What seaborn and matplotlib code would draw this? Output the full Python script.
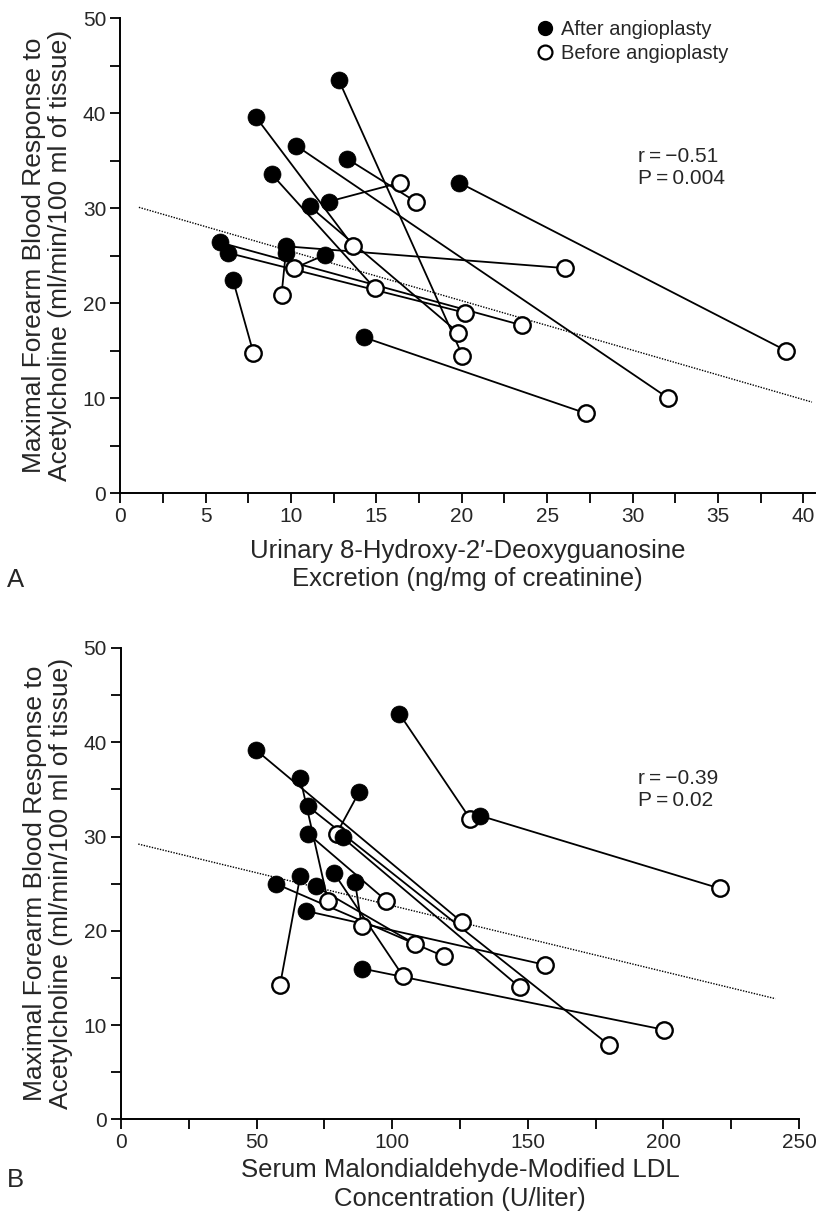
import pandas as pd
import seaborn as sns
import matplotlib.pyplot as plt
from matplotlib.lines import Line2D
from matplotlib.ticker import MultipleLocator

# Panel A: urinary 8-OHdG excretion (pairs listed in the same order)
a_after_x = [12.8, 7.95, 10.3, 13.3, 8.87, 19.85, 12.2, 11.1, 6.6, 14.3, 9.7, 5.85, 6.33, 9.7, 12.0]
a_after_y = [43.5, 39.6, 36.6, 35.2, 33.6, 32.7, 30.7, 30.2, 22.5, 16.4, 25.3, 26.4, 25.3, 26.0, 25.1]
a_before_x = [20.04, 13.65, 32.1, 17.3, 14.9, 39.0, 16.4, 19.8, 7.8, 27.3, 9.45, 23.5, 20.2, 26.06, 10.2]
a_before_y = [14.5, 26.0, 10.0, 30.7, 21.6, 15.0, 32.7, 16.9, 14.8, 8.4, 20.9, 17.7, 19.0, 23.7, 23.7]
a_fit_x = [1.1, 40.5]
a_fit_y = [30.1, 9.6]

# Panel B: serum MDA-modified LDL
b_after_x = [102.7, 132.5, 49.7, 66.1, 87.8, 69.0, 69.0, 81.7, 66.1, 78.6, 57.0, 71.8, 86.3, 68.4, 88.8]
b_after_y = [43.0, 32.2, 39.2, 36.2, 34.7, 33.2, 30.3, 29.9, 25.8, 26.1, 25.0, 24.7, 25.2, 22.1, 16.0]
b_before_x = [128.7, 220.7, 125.8, 76.3, 79.5, 179.9, 97.8, 147.1, 58.7, 104.0, 119.0, 108.4, 88.8, 156.2, 200.3]
b_before_y = [31.9, 24.5, 20.9, 23.2, 30.3, 7.9, 23.2, 14.0, 14.3, 15.2, 17.3, 18.6, 20.5, 16.4, 9.5]
b_fit_x = [6.4, 241.3]
b_fit_y = [29.2, 12.8]

ylabel = 'Maximal Forearm Blood Response to\nAcetylcholine (ml/min/100 ml of tissue)'
a_xlabel = 'Urinary 8-Hydroxy-2\u2032-Deoxyguanosine\nExcretion (ng/mg of creatinine)'
b_xlabel = 'Serum Malondialdehyde-Modified LDL\nConcentration (U/liter)'

sns.set_theme(style='ticks')
plt.rcParams['font.family'] = ['Liberation Sans', 'DejaVu Sans']
narrow = ['Liberation Sans Narrow', 'Liberation Sans', 'DejaVu Sans']


def pairs_frame(after_x, after_y, before_x, before_y):
    n = len(after_x)
    return pd.DataFrame({
        'pair': list(range(n)) * 2,
        'x': after_x + before_x,
        'y': after_y + before_y,
        'state': ['after'] * n + ['before'] * n,
    })


def draw_panel(ax, df, fit_x, fit_y, xmax, xmajor, xlabel, xpad, stats):
    sns.lineplot(data=df, x='x', y='y', units='pair', estimator=None, sort=False,
                 color='black', lw=1.3, ax=ax, legend=False, zorder=2)
    sns.lineplot(x=fit_x, y=fit_y, color='black', lw=1.0, ls=(0, (1, 1)),
                 ax=ax, legend=False, zorder=1)
    before = df[df['state'] == 'before']
    after = df[df['state'] == 'after']
    sns.scatterplot(data=before, x='x', y='y', s=140, color='white',
                    edgecolor='black', linewidth=1.7, ax=ax, zorder=3)
    sns.scatterplot(data=after, x='x', y='y', s=150, color='black',
                    edgecolor='black', linewidth=0.5, ax=ax, zorder=4)

    ax.set_xlim(0, xmax)
    ax.set_ylim(0, 50)
    ax.xaxis.set_major_locator(MultipleLocator(xmajor))
    ax.xaxis.set_minor_locator(MultipleLocator(xmajor / 2))
    ax.yaxis.set_major_locator(MultipleLocator(10))
    ax.yaxis.set_minor_locator(MultipleLocator(5))
    ax.tick_params(which='both', direction='out', length=7, width=1.3, color='black')
    ax.tick_params(which='major', labelsize=15, pad=3)
    for lab in ax.get_xticklabels() + ax.get_yticklabels():
        lab.set_family(narrow)
    for side in ['left', 'bottom']:
        ax.spines[side].set_linewidth(1.4)
        ax.spines[side].set_color('black')
    sns.despine(ax=ax)

    ax.set_xlabel(xlabel, fontsize=18.5, labelpad=xpad, linespacing=1.25)
    ax.set_ylabel(ylabel, fontsize=19, labelpad=8, linespacing=1.1)

    ax.text(stats[0], stats[1], stats[2], fontsize=15, family=narrow,
            va='top', ha='left', linespacing=1.2)


fig = plt.figure(figsize=(8.17, 12.18), dpi=100)
ax_a = fig.add_axes([0.147, 0.595, 0.851, 0.390])
ax_b = fig.add_axes([0.148, 0.081, 0.830, 0.387])

df_a = pairs_frame(a_after_x, a_after_y, a_before_x, a_before_y)
df_b = pairs_frame(b_after_x, b_after_y, b_before_x, b_before_y)

draw_panel(ax_a, df_a, a_fit_x, a_fit_y, 40.7, 5, a_xlabel, 9,
           (30.3, 36.5, 'r\u2009=\u2009\u22120.51\nP\u2009=\u20090.004'))
draw_panel(ax_b, df_b, b_fit_x, b_fit_y, 250, 50, b_xlabel, 4,
           (190.5, 37.2, 'r\u2009=\u2009\u22120.39\nP\u2009=\u20090.02'))

handles = [
    Line2D([], [], ls='', marker='o', ms=10, mfc='black', mec='black'),
    Line2D([], [], ls='', marker='o', ms=10, mfc='white', mec='black', mew=1.6),
]
ax_a.legend(handles, ['After angioplasty', 'Before angioplasty'], loc='upper left',
            bbox_to_anchor=(0.568, 1.035), frameon=False, handletextpad=0.2,
            labelspacing=0.25, handlelength=1.2, prop={'family': narrow, 'size': 14.5})

fig.text(0.008, 1 - 580 / 1218, 'A', fontsize=18.5, va='center')
fig.text(0.008, 1 - 1180 / 1218, 'B', fontsize=18.5, va='center')

fig.savefig('out.png', dpi=100)
